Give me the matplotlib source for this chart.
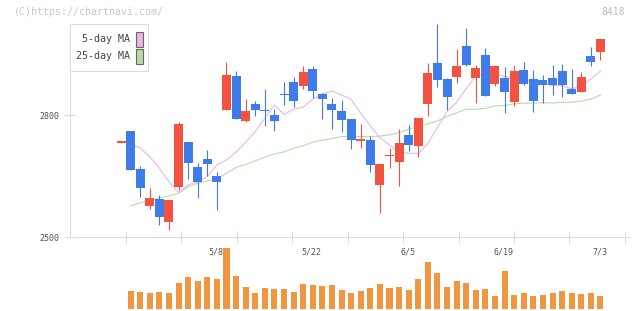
import numpy as np
import matplotlib
matplotlib.use('Agg')
from matplotlib import pyplot as plt
from matplotlib.patches import Rectangle

# daily candles, 2023-04-19 .. 2023-07-03 (8418)
opens = [2733, 2761, 2668, 2578, 2594, 2538, 2624, 2734, 2673, 2693,
         2651, 2813, 2897, 2787, 2828, 2813, 2800, 2852, 2882, 2873,
         2914, 2852, 2828, 2811, 2791, 2738, 2739, 2629, 2699, 2686,
         2752, 2725, 2829, 2929, 2889, 2895, 2970, 2892, 2948, 2878,
         2892, 2833, 2911, 2889, 2887, 2892, 2909, 2865, 2858, 2946, 2956]
highs = [2735, 2761, 2675, 2622, 2604, 2592, 2784, 2734, 2683, 2715,
         2661, 2931, 2909, 2840, 2835, 2864, 2815, 2882, 2894, 2921,
         2921, 2855, 2843, 2838, 2791, 2779, 2749, 2680, 2720, 2766,
         2776, 2793, 2929, 3024, 2892, 2963, 3015, 2924, 2965, 2924,
         2918, 2924, 2931, 2911, 2899, 2924, 2926, 2914, 2906, 2968, 2988]
lows = [2733, 2666, 2600, 2570, 2531, 2518, 2616, 2644, 2597, 2651,
        2568, 2813, 2792, 2784, 2799, 2774, 2762, 2826, 2821, 2865,
        2843, 2792, 2767, 2760, 2718, 2720, 2661, 2560, 2671, 2627,
        2712, 2698, 2799, 2870, 2813, 2880, 2920, 2831, 2848, 2873,
        2806, 2824, 2875, 2809, 2831, 2851, 2846, 2853, 2858, 2920, 2937]
closes = [2735, 2666, 2622, 2597, 2551, 2592, 2778, 2683, 2637, 2681,
          2637, 2899, 2792, 2811, 2812, 2811, 2787, 2850, 2836, 2906,
          2860, 2841, 2814, 2789, 2740, 2740, 2679, 2680, 2701, 2732,
          2728, 2793, 2904, 2888, 2846, 2921, 2924, 2916, 2848, 2921,
          2858, 2909, 2878, 2836, 2875, 2875, 2875, 2853, 2894, 2932, 2988]

# moving averages as drawn (from 2nd day on)
ma5 = [2727, 2720, 2698, 2670, 2637, 2610, 2629, 2637, 2649, 2678,
       2690, 2710, 2734, 2760, 2793, 2825, 2802, 2815, 2820, 2840,
       2852, 2860, 2850, 2839, 2805, 2774, 2745, 2727, 2708, 2707,
       2706, 2731, 2770, 2809, 2832, 2866, 2897, 2899, 2901, 2895,
       2892, 2887, 2883, 2879, 2873, 2873, 2865, 2872, 2889, 2909]
ma25 = [2577, 2585, 2590, 2597, 2602, 2608, 2624, 2633, 2638, 2645,
        2657, 2672, 2679, 2688, 2697, 2705, 2710, 2719, 2725, 2734,
        2739, 2743, 2748, 2748, 2748, 2748, 2749, 2752, 2757, 2766,
        2772, 2779, 2786, 2797, 2806, 2815, 2815, 2817, 2823, 2824,
        2828, 2830, 2830, 2831, 2830, 2832, 2832, 2835, 2840, 2850]

# volume (relative), from 2nd day on
volume = [54, 51, 48, 51, 48, 78, 96, 84, 96, 90,
          183, 99, 66, 48, 63, 60, 60, 51, 75, 72,
          69, 72, 57, 48, 54, 63, 75, 63, 66, 57,
          90, 141, 108, 66, 84, 78, 57, 60, 39, 114,
          42, 48, 39, 42, 48, 54, 48, 45, 48, 39]

date_labels = ['5/8', '5/22', '6/5', '6/19', '7/3']
date_idx = [10, 20, 30, 40, 50]

RED = '#F15340'
BLUE = '#407BEA'
ORANGE = '#F09641'
PINK = '#E8B6E8'
GREEN = '#B8DCA8'
GRID = '#dddddd'
MONO = 'DejaVu Sans Mono'

W, H = 640, 311


def fx(px):
    return px / W


def fy(py):
    return 1 - py / H


fig = plt.figure(figsize=(6.4, 3.11), dpi=100)

x = np.arange(len(opens))
o = np.array(opens, float)
c = np.array(closes, float)
cols = [RED if cc >= oo else BLUE for oo, cc in zip(o, c)]

# price panel
ax = fig.add_axes([fx(70), fy(237.3), fx(560), (237.3 - 24) / H])
ax.set_xlim(-5.32, 53.08)
ax.set_ylim(2500, 3024.5)

ax.plot(x[1:], ma25, color=GREEN, lw=0.8, zorder=1)
ax.plot(x[1:], ma5, color=PINK, lw=0.8, zorder=1)

ax.vlines(x, lows, highs, colors=cols, lw=0.8, zorder=2)
body = np.maximum(np.abs(c - o), 3)
ax.bar(x, body, bottom=np.minimum(o, c), width=0.94, color=cols, zorder=3)

for s in ['top', 'right']:
    ax.spines[s].set_visible(False)
for s in ['left', 'bottom']:
    ax.spines[s].set_color(GRID)
    ax.spines[s].set_linewidth(0.8)

ax.set_yticks([2500, 2800])
ax.set_yticklabels(['2500', '2800'], fontsize=6, family=MONO, color='#555555')
ax.tick_params(axis='y', direction='inout', length=9, width=0.8, color=GRID, pad=3)
ax.set_xticks(0.52 + 5.78 * np.arange(10))
ax.set_xticklabels([])
ax.tick_params(axis='x', direction='inout', length=8, width=0.8, color=GRID)

# volume panel
axv = fig.add_axes([fx(70), fy(309), fx(560), 62 / H])
axv.set_xlim(-5.32, 53.08)
axv.set_ylim(0, 186)
axv.bar(x[1:], volume, width=0.63, color=ORANGE, zorder=2)
axv.axis('off')
for lab, i in zip(date_labels, date_idx):
    axv.text(i - 0.1, 0.92, lab, transform=axv.get_xaxis_transform(), ha='center', va='center',
             fontsize=6, family=MONO, color='#555555', zorder=1)

# legend box
fig.add_artist(Rectangle((fx(70), fy(71)), fx(78), 47 / H, transform=fig.transFigure,
                         facecolor='white', edgecolor=GRID, lw=0.8, zorder=5))
for lab, col, yc in [('5-day MA', PINK, 39), ('25-day MA', GREEN, 56)]:
    fig.text(fx(129.5), fy(yc), lab, ha='right', va='center', fontsize=7.2, family=MONO,
             color='#444444', zorder=6)
    fig.add_artist(Rectangle((fx(136), fy(yc + 7.5)), fx(6.7), 15 / H, transform=fig.transFigure,
                             facecolor=col, edgecolor='#666666', lw=0.8, zorder=6))

fig.text(fx(14), fy(12.3), '(C)https://chartnavi.com/', ha='left', va='center',
         fontsize=7.2, family=MONO, color='#c8c8c8')
fig.text(fx(625), fy(12), '8418', ha='right', va='center', fontsize=7, family=MONO, color='#bbbbbb')

fig.savefig('out.png', dpi=100)
